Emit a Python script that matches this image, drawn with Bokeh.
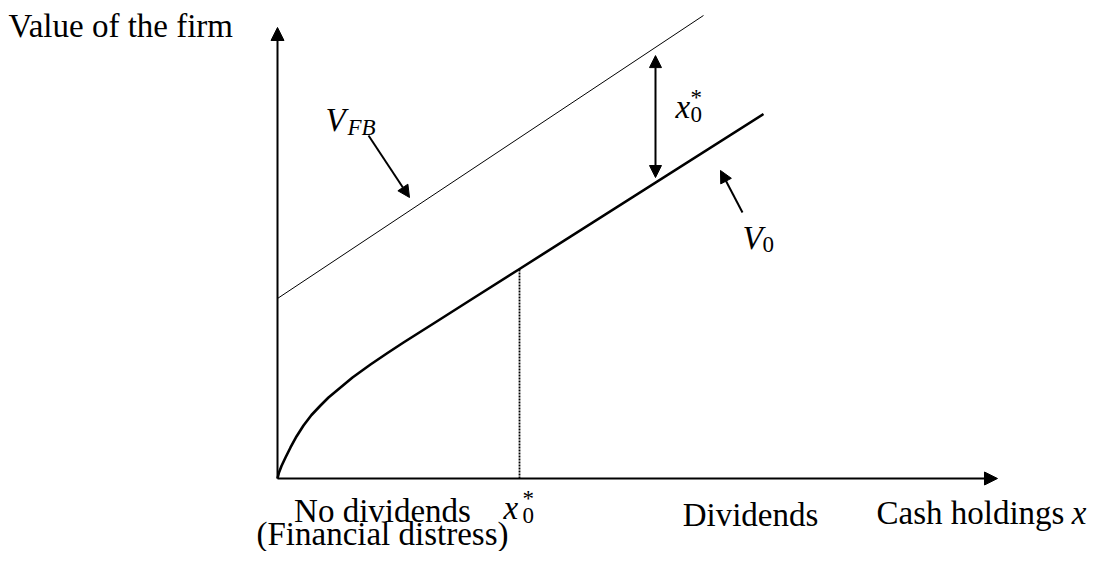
from bokeh.plotting import figure
from bokeh.models import Range1d, Arrow, NormalHead
from bokeh.core.properties import value
from bokeh.embed import file_html
from bokeh.resources import INLINE

# ---- data (diagram units) ----
v0_x = [0.0, 0.03125, 0.0833, 0.1667, 0.2708, 0.3958, 0.5417, 0.7083, 0.8958, 1.0625, 1.25,
        1.5625, 1.9375, 2.2917, 2.625, 3.3333, 4.0208, 5.0417, 10.125]
v0_y = [0.0, 0.125, 0.2604, 0.4375, 0.6458, 0.875, 1.1042, 1.3229, 1.5208, 1.6875, 1.84375,
        2.1042, 2.375, 2.6146, 2.8333, 3.28125, 3.71875, 4.3646, 7.59375]
vfb_x = [0.0, 8.875]
vfb_y = [3.75, 9.646]
x0_star = 5.0417
v0_at_x0 = 4.3646
x_axis_end = 15.0
y_axis_end = 9.396

FONT = value("Liberation Serif")
BIG = 33
SMALL = 23
UNIT = 48.0  # px per diagram unit

p = figure(width=1088, height=551, output_backend="svg", toolbar_location=None,
           x_range=Range1d(-5.771, 16.896), y_range=Range1d(-1.521, 9.958),
           x_axis_type=None, y_axis_type=None, min_border=0)
p.grid.visible = False
p.outline_line_color = None
p.background_fill_color = "white"

def head(s):
    return NormalHead(size=s, fill_color="black", line_color="black", line_width=1)

# axes
p.add_layout(Arrow(x_start=0, y_start=0, x_end=0, y_end=y_axis_end, line_width=2, line_color="black", end=head(13)))
p.add_layout(Arrow(x_start=0, y_start=0, x_end=x_axis_end, y_end=0, line_width=2, line_color="black", end=head(13)))

# curves
p.line(vfb_x, vfb_y, line_color="black", line_width=1)
p.line(v0_x, v0_y, line_color="black", line_width=2.6, line_join="round")
p.line([x0_star, x0_star], [0, v0_at_x0], line_color="black", line_width=1.8, line_dash="2 1")

# double arrow (gap x0*)
p.add_layout(Arrow(x_start=7.875, y_start=6.27, x_end=7.875, y_end=8.81, line_width=2, line_color="black",
                   start=head(12), end=head(12)))
# pointers
p.add_layout(Arrow(x_start=1.896, y_start=7.146, x_end=2.75, y_end=5.854, line_width=2, line_color="black", end=head(12)))
p.add_layout(Arrow(x_start=9.6875, y_start=5.542, x_end=9.229, y_end=6.417, line_width=2, line_color="black", end=head(12)))

def txt(x, y, t, size=BIG, align="left", style="normal"):
    # y is the wanted baseline; compensate the renderer's baseline offset
    yy = y + 0.33 * size / UNIT
    p.text(x=[x], y=[yy], text=[t], text_font=FONT, text_font_size=f"{size}px", text_align=align,
           text_baseline="alphabetic", text_font_style=style, text_color="black")

# plain labels
txt(-5.604, 9.208, "Value of the firm")
txt(2.1875, -0.896, "No dividends", align="center")
txt(2.1875, -1.375, "(Financial distress)", align="center")
txt(9.854, -0.98, "Dividends", align="center")
txt(12.48, -0.94, "Cash holdings")
txt(16.854, -0.94, "x", align="right", style="italic")

# V_FB
txt(1.0, 7.25, "V", style="italic")
txt(1.458, 7.146, "FB", size=SMALL, style="italic")
# V_0
txt(9.6875, 4.792, "V", style="italic")
txt(10.104, 4.708, "0", size=SMALL)
# x0* bottom
txt(4.708, -0.833, "x", style="italic")
txt(5.104, -0.9375, "0", size=SMALL)
txt(5.104, -0.583, "*", size=SMALL)
# x0* upper
txt(8.292, 7.521, "x", style="italic")
txt(8.604, 7.417, "0", size=SMALL)
txt(8.604, 7.771, "*", size=SMALL)

open("out.html", "w").write(file_html(p, INLINE))
